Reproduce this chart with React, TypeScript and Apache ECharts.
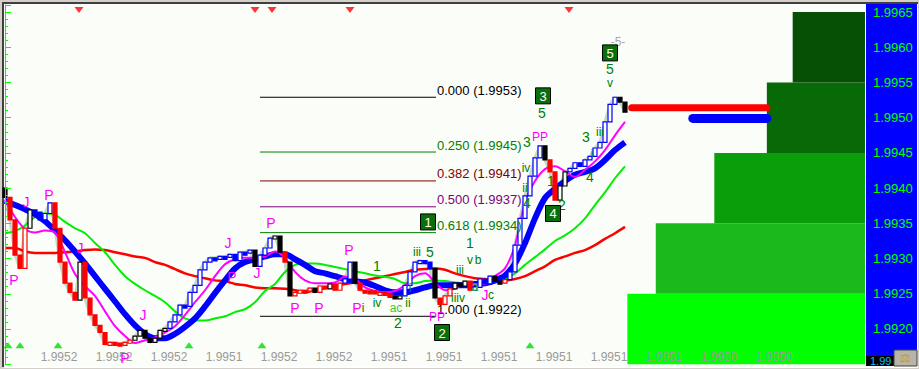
import React, { useEffect, useRef } from 'react';
import * as echarts from 'echarts';

// ---------- DATA ----------
const closes = [
  1.99387, 1.99355, 1.99305, 1.99286, 1.99343, 1.99369, 1.99366, 1.99355, 1.99364, 1.99379,
  1.99343, 1.99295, 1.99265, 1.99252, 1.99241, 1.99295, 1.99244, 1.9922, 1.99205, 1.99195,
  1.99178, 1.99181, 1.9918, 1.99178, 1.99181, 1.99184, 1.9919, 1.99198, 1.99187, 1.99181,
  1.99187, 1.99198, 1.99201, 1.9921, 1.9922, 1.99234, 1.99232, 1.99252, 1.99262, 1.99284,
  1.99295, 1.99301, 1.99301, 1.99303, 1.99302, 1.99306, 1.99297, 1.99309, 1.99309, 1.99312,
  1.99289, 1.99305, 1.99315, 1.99329, 1.99332, 1.99309, 1.99295, 1.99247, 1.99252, 1.99255,
  1.99254, 1.99258, 1.99252, 1.99261, 1.99257, 1.99264, 1.99255, 1.99265, 1.99271, 1.99295,
  1.99265, 1.99255, 1.99254, 1.99254, 1.9925, 1.99252, 1.99249, 1.99247, 1.99245, 1.99247,
  1.99262, 1.99281, 1.99295, 1.99297, 1.99295, 1.99286, 1.99244, 1.99235, 1.99247, 1.99257,
  1.99265, 1.99261, 1.99268, 1.99255, 1.99259, 1.99271, 1.99264, 1.99275, 1.99268, 1.99265,
  1.9927, 1.99281, 1.99319, 1.99357, 1.99389, 1.99417, 1.99443, 1.9946, 1.9944, 1.99423,
  1.99383, 1.99403, 1.99423, 1.99428, 1.99436, 1.99431, 1.9944, 1.99445, 1.99457, 1.99465,
  1.99494, 1.99519, 1.99529, 1.99522, 1.99508,
];
const firstOpen = 1.994;

// trend colouring of the bars: [first bar index, trend]
const trendSegments: [number, string][] = [
  [0, 'k'], [1, 'r'], [5, 'k'], [6, 'b'], [10, 'r'], [15, 'k'], [16, 'r'], [26, 'k'], [33, 'b'],
  [50, 'k'], [51, 'b'], [54, 'k'], [56, 'r'], [57, 'k'], [58, 'r'], [62, 'k'], [63, 'r'], [65, 'k'],
  [66, 'r'], [68, 'b'], [70, 'k'], [71, 'r'], [78, 'k'], [80, 'b'], [86, 'k'], [87, 'r'], [90, 'k'],
  [93, 'r'], [94, 'b'], [98, 'k'], [100, 'r'], [101, 'b'], [108, 'k'], [109, 'r'], [111, 'k'],
  [113, 'b'], [123, 'k'],
];

// moving averages, one value every MA_STEP bars
const MA_STEP = 2;
const maBlue = [
  1.99382, 1.99376, 1.9937, 1.99363, 1.99353, 1.9934, 1.99326, 1.9931, 1.99293, 1.99275,
  1.99257, 1.99239, 1.99221, 1.99205, 1.99193, 1.99187, 1.99187, 1.99193, 1.99203, 1.99215,
  1.99232, 1.99251, 1.99269, 1.99286, 1.99295, 1.99299, 1.99303, 1.99306, 1.99306, 1.99299,
  1.99291, 1.99282, 1.99279, 1.99275, 1.99271, 1.99268, 1.99266, 1.99261, 1.99255, 1.99252,
  1.99252, 1.99255, 1.99259, 1.99262, 1.99262, 1.99262, 1.99262, 1.99264, 1.99265, 1.99269,
  1.99276, 1.99293, 1.99322, 1.99357, 1.99386, 1.99399, 1.9941, 1.99419, 1.99423, 1.99428,
  1.9944, 1.99454, 1.99465,
];
const maMagenta = [
  1.99383, 1.99359, 1.99342, 1.99337, 1.9934, 1.99337, 1.99309, 1.99278, 1.99261, 1.99247,
  1.99225, 1.99204, 1.9919, 1.9918, 1.99184, 1.99188, 1.99195, 1.99204, 1.9922, 1.99238,
  1.99255, 1.99275, 1.99292, 1.99299, 1.99301, 1.99301, 1.99303, 1.9931, 1.99301, 1.99281,
  1.99269, 1.99265, 1.99265, 1.99266, 1.99274, 1.99271, 1.99259, 1.99254, 1.99252, 1.99254,
  1.99262, 1.99275, 1.99279, 1.99266, 1.99255, 1.99257, 1.99266, 1.99264, 1.99264, 1.99275,
  1.99286, 1.99319, 1.9938, 1.9941, 1.99427, 1.99431, 1.99424, 1.99416, 1.99426, 1.99438,
  1.99454, 1.99475, 1.99494,
];
const maGreen = [
  1.99336, 1.99339, 1.99347, 1.99359, 1.99364, 1.99362, 1.99352, 1.99343, 1.99336, 1.99322,
  1.99309, 1.99291, 1.99275, 1.99264, 1.99255, 1.99247, 1.99238, 1.99225, 1.99215, 1.99212,
  1.99212, 1.99215, 1.99218, 1.99224, 1.99228, 1.99238, 1.99254, 1.99264, 1.99281, 1.99291,
  1.99293, 1.99293, 1.99291, 1.99288, 1.99285, 1.99282, 1.99279, 1.99276, 1.99274, 1.99271,
  1.99265, 1.99265, 1.99268, 1.99269, 1.99268, 1.99266, 1.99265, 1.99265, 1.99265, 1.99266,
  1.99271, 1.99279, 1.99291, 1.99302, 1.99313, 1.99325, 1.99333, 1.99343, 1.99357, 1.99376,
  1.99394, 1.99414, 1.99431,
];
const maRed = [
  1.99315, 1.99315, 1.9931, 1.99308, 1.99308, 1.99308, 1.99309, 1.9931, 1.99312, 1.99313,
  1.99312, 1.99309, 1.99306, 1.99303, 1.99301, 1.99295, 1.99291, 1.99285, 1.99279, 1.99275,
  1.99272, 1.99269, 1.99268, 1.99264, 1.99262, 1.99259, 1.99258, 1.99258, 1.99257, 1.99255,
  1.99252, 1.99255, 1.99258, 1.99261, 1.99264, 1.99266, 1.99269, 1.99272, 1.99275, 1.99278,
  1.99281, 1.99284, 1.99285, 1.99286, 1.99284, 1.99279, 1.99275, 1.99272, 1.99271, 1.99269,
  1.99269, 1.99271, 1.99275, 1.99282, 1.99289, 1.99298, 1.99303, 1.99308, 1.99312, 1.99319,
  1.99328, 1.99336, 1.99345,
];

// Fibonacci retracement
const fibRatios = [0, 0.25, 0.382, 0.5, 0.618, 1];
const fibPriceLabels = ['1.9953', '1.9945', '1.9941', '1.9937', '1.9934', '1.9922'];
const fibHigh = 1.99529;
const fibLow = 1.99218;
const fibStart = 51;
const fibEnd = 86.2;

// bottom axis tick labels
const xTickLabels = ['', '1.9952', '1.9952', '1.9952', '1.9951', '1.9952', '1.9952', '1.9951', '1.9951',
  '1.9951', '1.9951', '1.9951', '1.9951', '1.9950', '1.9950', ''];

// volume profile on the right
const profileLow = [1.9915, 1.9925, 1.9935, 1.9945, 1.9955];
const profileHigh = [1.9925, 1.9935, 1.9945, 1.9955, 1.9965];
const profileVolume = [27.6, 24.3, 17.5, 11.4, 8.4];
const sidePrices = [1.99514, 1.99499];
const sideVolumes = [27.1, 20.0];

// wave / pivot labels: [bar index, price, text, kind]
const annotations: [number, number, string, string][] = [
  [1.8, 1.99269, 'P', 'm'], [4.2, 1.9938, 'J', 'm'], [8.8, 1.9939, 'P', 'm'], [15, 1.99315, 'J', 'm'],
  [24, 1.99159, 'P', 'm'], [27.6, 1.9922, 'J', 'm'], [44.6, 1.99322, 'J', 'm'], [45.4, 1.99274, 'P', 'm'],
  [50.4, 1.99279, 'J', 'm'], [53.2, 1.9935, 'P', 'm'], [58, 1.9923, 'P', 'm'], [62.8, 1.9923, 'P', 'm'],
  [68.8, 1.99312, 'P', 'm'], [70.4, 1.9923, 'P', 'm'], [86.4, 1.99217, 'PP', 'm'], [96, 1.99248, 'J', 'm'],
  [107, 1.99472, 'PP', 'm'],
  [74.4, 1.99289, '1', 'g'], [71.6, 1.9923, 'i', 'g'], [74.4, 1.99237, 'iv', 'g'], [78.2, 1.9923, 'ac', 'l'],
  [78.6, 1.99208, '2', 'g'], [80.6, 1.99237, 'ii', 'g'], [81, 1.99258, 'i', 'g'], [82.4, 1.99309, 'iii', 'g'],
  [85, 1.99309, '5', 'g'], [91, 1.99284, 'iii', 'g'], [90.6, 1.99244, 'iiiv', 'g'], [93, 1.99322, '1', 'g'],
  [93, 1.99298, 'v', 'g'], [94.6, 1.99298, 'b', 'g'], [94, 1.99259, 'a', 'l'], [97.2, 1.99248, 'c', 'g'],
  [107.4, 1.99507, '5', 'g'], [104.4, 1.99465, '3', 'g'], [104.2, 1.99428, 'iv', 'g'], [104, 1.994, 'ii', 'g'],
  [104.4, 1.99379, '4', 'g'], [111.4, 1.99376, '2', 'g'], [109.2, 1.9941, '1', 'g'], [116.2, 1.99472, '3', 'g'],
  [119, 1.9948, 'iii', 'g'], [117.4, 1.99448, 'i', 'g'], [117, 1.99416, '4', 'g'], [121, 1.99569, '5', 'g'],
  [121, 1.99549, 'v', 'g'], [122.6, 1.99607, '-5-', 's'],
];
const waveBoxes: [number, number, string][] = [
  [84.6, 1.99352, '1'], [87.4, 1.99195, '2'], [107.6, 1.99531, '3'], [109.6, 1.99364, '4'], [121, 1.99592, '5'],
];
const topMarks = [14.8, 50, 53.4, 69, 112.8];
const topMarkPrice = 1.99653;
const bottomMarks = [0.6, 3, 10.6, 36.8, 51.4, 105];
const bottomMarkPrice = 1.99177;

// ---------- STYLE ----------
const FONT = 'Liberation Sans, Arial, sans-serif';
const trendColor: Record<string, string> = { k: '#000000', r: '#ff0000', b: '#0000ff' };
const annColor: Record<string, string> = { m: '#ff00ff', g: '#008000', l: '#33cc33', s: '#a8a8a8' };
const fibColors = ['#000000', '#008000', '#800000', '#800080', '#008000', '#000000'];
const profileColors = ['#00ff00', '#1cb91c', '#0a9f0a', '#076a07', '#055005'];
const sideColors = ['#ff0000', '#0000ff'];
const sideWidths = [7, 9];
const PLOT_BG = '#fbfdf9';

function trendAt(i: number): string {
  let t = 'k';
  for (const [s, c] of trendSegments) if (i >= s) t = c;
  return t;
}

function profileVolumeAt(p: number): number {
  for (let k = 0; k < profileLow.length; k++) if (p >= profileLow[k] && p < profileHigh[k]) return profileVolume[k];
  return 0;
}

const candleData = closes.map((c, i) => [i, i === 0 ? firstOpen : closes[i - 1], c]);
const maSeries = (arr: number[]) => arr.map((v, k) => [k * MA_STEP, v]);

function buildOption(): any {
  return {
    animation: false,
    backgroundColor: '#d4d0c8',
    graphic: [
      { type: 'rect', z: -10, shape: { x: 2, y: 2, width: 916, height: 365 }, style: { fill: '#404040' } },
      { type: 'rect', z: -9, shape: { x: 4, y: 4, width: 914, height: 364 }, style: { fill: '#ffffff' } },
      { type: 'rect', z: -8, shape: { x: 4, y: 4, width: 862, height: 362 }, style: { fill: PLOT_BG } },
      { type: 'rect', z: -7, shape: { x: 866, y: 4, width: 51, height: 362 }, style: { fill: '#0000ff' } },
      { type: 'rect', z: 50, shape: { x: 866, y: 356, width: 28, height: 10 }, style: { fill: '#000000' } },
      { type: 'text', z: 51, x: 870, y: 361, style: { text: '1.99', fill: '#00c0ff', font: `11px ${FONT}`, verticalAlign: 'middle' } },
      { type: 'rect', z: 50, shape: { x: 894, y: 350, width: 23, height: 16 }, style: { fill: '#b8b4a8', stroke: '#404040', lineWidth: 1 } },
      { type: 'text', z: 51, x: 905, y: 358, style: { text: '⚖', fill: '#c8a000', font: `12px ${FONT}`, align: 'center', verticalAlign: 'middle' } },
    ],
    grid: { left: 4, right: 54, top: 5, height: 359.2 },
    xAxis: [
      {
        type: 'value', min: -0.2, max: 172, interval: 11, z: 6,
        axisLine: { show: false }, axisTick: { show: false }, splitLine: { show: false },
        axisLabel: {
          inside: true, margin: 1, color: '#9a9a9a', fontSize: 12, fontFamily: FONT,
          formatter: (v: number) => xTickLabels[Math.round((v + 0.2) / 11)] ?? '',
        },
      },
      { type: 'value', min: 0, max: 100, inverse: true, show: false },
    ],
    yAxis: {
      type: 'value', position: 'right', min: 1.9915, max: 1.9966, interval: 0.0005, z: 6,
      axisLine: { show: true, lineStyle: { color: '#00ff00', width: 1 } },
      axisTick: { show: true, length: 6, lineStyle: { color: '#00ff00' } },
      minorTick: { show: true, splitNumber: 5, length: 3, lineStyle: { color: '#00ff00' } },
      splitLine: { show: false },
      axisLabel: {
        color: '#00ff00', fontSize: 13, margin: 8, fontFamily: FONT,
        formatter: (v: number) => (v < 1.9917 ? '' : v.toFixed(4)),
      },
    },
    series: [
      {
        type: 'custom', xAxisIndex: 1, z: 2, silent: true,
        data: profileLow.map((lo, k) => [profileVolume[k], lo, profileHigh[k]]),
        renderItem: (params: any, api: any) => {
          const p0 = api.coord([0, api.value(2)]);
          const p1 = api.coord([api.value(0), api.value(1)]);
          return {
            type: 'rect',
            shape: { x: p1[0], y: p0[1], width: p0[0] - p1[0], height: p1[1] - p0[1] },
            style: { fill: profileColors[params.dataIndex] },
          };
        },
      },
      {
        type: 'custom', xAxisIndex: 1, z: 2, silent: true,
        data: sidePrices.map((p, k) => [sideVolumes[k], p, profileVolumeAt(p)]),
        renderItem: (params: any, api: any) => {
          const a = api.coord([api.value(0), api.value(1)]);
          const b = api.coord([api.value(2), api.value(1)]);
          return {
            type: 'line', shape: { x1: a[0], y1: a[1], x2: b[0], y2: b[1] },
            style: { stroke: sideColors[params.dataIndex], lineWidth: sideWidths[params.dataIndex], lineCap: 'round' },
          };
        },
      },
      {
        type: 'line', z: 3, silent: true, showSymbol: false,
        data: closes.map((c, i) => [i, c]),
        lineStyle: { color: '#c4d8c4', width: 3 },
      },
      { type: 'line', z: 4, silent: true, showSymbol: false, smooth: 0.3, data: maSeries(maRed), lineStyle: { color: '#ff0000', width: 2.5 } },
      { type: 'line', z: 4, silent: true, showSymbol: false, smooth: 0.3, data: maSeries(maGreen), lineStyle: { color: '#00ee00', width: 2 } },
      { type: 'line', z: 4, silent: true, showSymbol: false, smooth: 0.3, data: maSeries(maBlue), lineStyle: { color: '#0000ff', width: 6 } },
      { type: 'line', z: 4, silent: true, showSymbol: false, smooth: 0.3, data: maSeries(maMagenta), lineStyle: { color: '#ff00ff', width: 2 } },
      {
        type: 'custom', z: 5, silent: true,
        data: candleData,
        renderItem: (params: any, api: any) => {
          const i = api.value(0), o = api.value(1), c = api.value(2);
          const po = api.coord([i, o]);
          const pc = api.coord([i, c]);
          const col = trendColor[trendAt(params.dataIndex)];
          const top = Math.min(po[1], pc[1]);
          const h = Math.max(Math.abs(po[1] - pc[1]), 3);
          return {
            type: 'rect',
            shape: { x: po[0] - 2, y: top, width: 4, height: h },
            style: { fill: c > o ? PLOT_BG : col, stroke: col, lineWidth: 1.2 },
          };
        },
      },
      {
        type: 'custom', z: 6, silent: true,
        data: fibRatios.map((r) => [fibStart, fibHigh - r * (fibHigh - fibLow)]),
        renderItem: (params: any, api: any) => {
          const k = params.dataIndex;
          const a = api.coord([fibStart, api.value(1)]);
          const b = api.coord([fibEnd, api.value(1)]);
          return {
            type: 'group',
            children: [
              { type: 'line', shape: { x1: a[0], y1: a[1], x2: b[0], y2: b[1] }, style: { stroke: fibColors[k], lineWidth: 1 } },
              {
                type: 'text', x: b[0] + 1, y: b[1] - 7,
                style: { text: `${fibRatios[k].toFixed(3)} (${fibPriceLabels[k]})`, fill: fibColors[k], font: `13px ${FONT}`, verticalAlign: 'middle' },
              },
            ],
          };
        },
      },
      {
        type: 'custom', z: 7, silent: true,
        data: annotations.map((a) => [a[0], a[1]]),
        renderItem: (params: any, api: any) => {
          const a = annotations[params.dataIndex];
          const p = api.coord([a[0], a[1]]);
          const big = a[2].length === 1 && !/[iva-c]/.test(a[2]);
          return {
            type: 'text', x: p[0], y: p[1],
            style: { text: a[2], fill: annColor[a[3]], font: `${big ? 14 : 12}px ${FONT}`, align: 'center', verticalAlign: 'middle' },
          };
        },
      },
      {
        type: 'custom', z: 8, silent: true,
        data: waveBoxes.map((b) => [b[0], b[1]]),
        renderItem: (params: any, api: any) => {
          const b = waveBoxes[params.dataIndex];
          const p = api.coord([b[0], b[1]]);
          return {
            type: 'group',
            children: [
              { type: 'rect', shape: { x: p[0] - 7.5, y: p[1] - 8, width: 15, height: 16 }, style: { fill: '#0a6e0a', stroke: '#000000', lineWidth: 1 } },
              { type: 'text', x: p[0], y: p[1] + 0.5, style: { text: b[2], fill: '#ffffff', font: `13px ${FONT}`, align: 'center', verticalAlign: 'middle' } },
            ],
          };
        },
      },
      {
        type: 'scatter', z: 7, silent: true, symbol: 'triangle', symbolSize: [9, 6], symbolRotate: 180,
        itemStyle: { color: '#ff0000' },
        data: topMarks.map((i) => [i, topMarkPrice]),
      },
      {
        type: 'scatter', z: 7, silent: true, symbol: 'triangle', symbolSize: [9, 6],
        itemStyle: { color: '#00dd00' },
        data: bottomMarks.map((i) => [i, bottomMarkPrice]),
      },
    ],
  };
}

export default function App() {
  const ref = useRef<HTMLDivElement>(null);
  useEffect(() => {
    document.body.style.margin = '0';
    const chart = echarts.init(ref.current as HTMLDivElement, null, { renderer: 'svg' });
    chart.setOption(buildOption());
    return () => chart.dispose();
  }, []);
  return <div ref={ref} style={{ width: 919, height: 369 }} />;
}
